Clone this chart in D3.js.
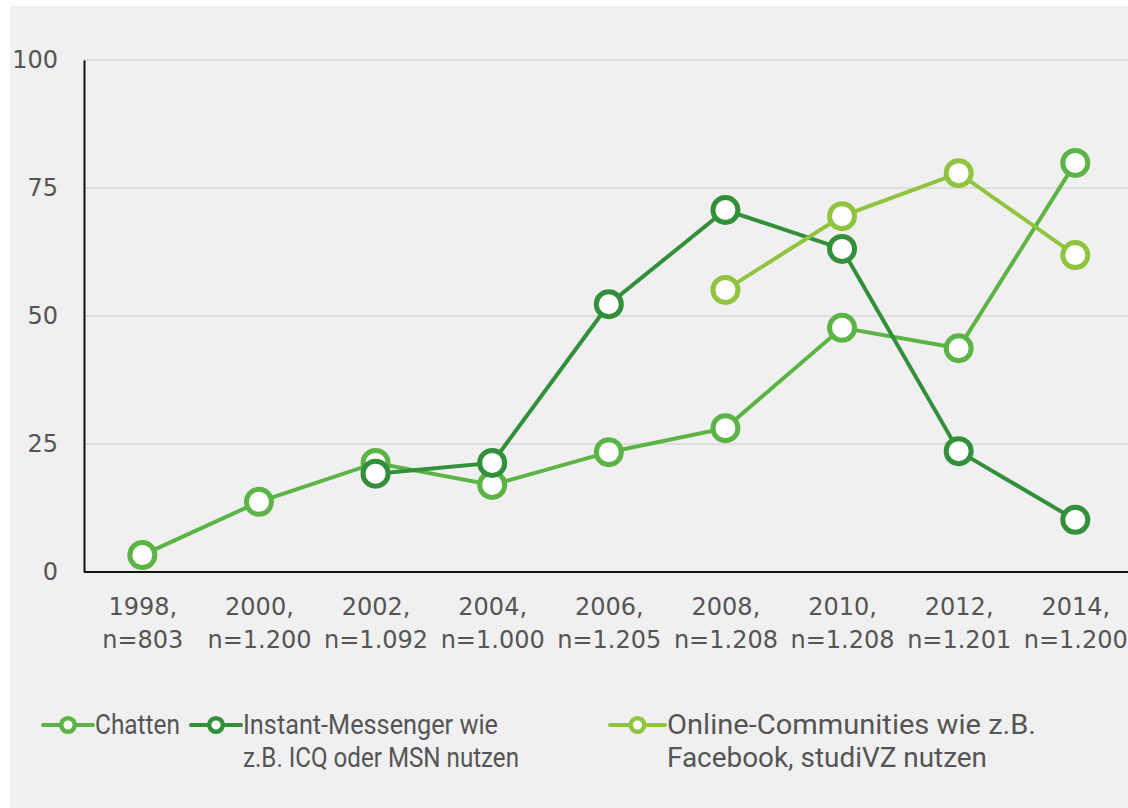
<!DOCTYPE html>
<html><head><meta charset="utf-8">
<script src="https://cdn.jsdelivr.net/npm/d3@7"></script>
<style>body{margin:0;background:#fff}svg{display:block}</style>
</head><body>
<script>
const categories = [["1998,","n=803"],["2000,","n=1.200"],["2002,","n=1.092"],["2004,","n=1.000"],["2006,","n=1.205"],["2008,","n=1.208"],["2010,","n=1.208"],["2012,","n=1.201"],["2014,","n=1.200"]];
const chatten = [3.3, 13.7, 21.3, 17.0, 23.4, 28.1, 47.7, 43.7, 79.9];
const instantMessenger = [null, null, 19.2, 21.3, 52.3, 70.7, 63.1, 23.6, 10.2];
const onlineCommunities = [null, null, null, null, null, 55.1, 69.5, 77.9, 61.9];
const yTicks = [0, 25, 50, 75, 100];
const seriesNames = [["Chatten"], ["Instant-Messenger wie", "z.B. ICQ oder MSN nutzen"], ["Online-Communities wie z.B.", "Facebook, studiVZ nutzen"]];
const colors = ["#5db446", "#33903a", "#8fc43e"];

// layout (not data)
const legendX = [43, 191, 610];
const legendTextX = [52, 52, 57];
const legendTextWidths = [[85], [255, 276], [369, 320]];

const W = 1128, H = 808;
const svg = d3.select("body").append("svg").attr("width", W).attr("height", H);
svg.append("rect").attr("x", 10).attr("y", 6).attr("width", W - 10).attr("height", H - 6).attr("fill", "#f0f0f0");

const x = d3.scalePoint().domain(d3.range(categories.length)).range([84, 1133.6]).padding(0.5);
const y = d3.scaleLinear().domain([0, 100]).range([572, 60]);

// gridlines
svg.append("g").selectAll("line").data(yTicks.filter(t => t > 0)).join("line")
  .attr("x1", 84).attr("x2", W).attr("y1", d => y(d)).attr("y2", d => y(d))
  .attr("stroke", "#d9d9d9").attr("stroke-width", 1.5);

// y axis
const yAxis = svg.append("g").attr("transform", "translate(84,0)")
  .call(d3.axisLeft(y).tickValues(yTicks).tickSize(0).tickPadding(26));
yAxis.select(".domain").attr("stroke", "#111").attr("stroke-width", 2);
yAxis.selectAll("text").attr("font-family", "DejaVu Sans").attr("font-size", 24).attr("fill", "#555");

// x axis
const xAxis = svg.append("g").attr("transform", "translate(0,572)")
  .call(d3.axisBottom(x).tickSize(0).tickFormat(() => ""));
xAxis.select(".domain").attr("stroke", "#111").attr("stroke-width", 2).attr("d", "M84,0H" + W);
xAxis.selectAll(".tick text").each(function(d) {
  const t = d3.select(this).text(null).attr("font-family", "DejaVu Sans").attr("font-size", 24).attr("fill", "#555").attr("y", 0).attr("dy", null);
  t.append("tspan").attr("x", 0).attr("y", 43).text(categories[d][0]);
  t.append("tspan").attr("x", 0).attr("y", 76).text(categories[d][1]);
});

const allSeries = [chatten, instantMessenger, onlineCommunities];
const line = d3.line().defined(d => d.v != null).x(d => x(d.i)).y(d => y(d.v));
allSeries.forEach((s, k) => {
  const pts = s.map((v, i) => ({i, v}));
  const g = svg.append("g");
  g.append("path").datum(pts).attr("d", line).attr("fill", "none").attr("stroke", colors[k]).attr("stroke-width", 4);
  g.selectAll("circle").data(pts.filter(p => p.v != null)).join("circle")
    .attr("cx", p => x(p.i)).attr("cy", p => y(p.v)).attr("r", 12.5)
    .attr("fill", "#fff").attr("stroke", colors[k]).attr("stroke-width", 5);
});

// legend
seriesNames.forEach((names, k) => {
  const g = svg.append("g").attr("transform", `translate(${legendX[k]},725)`);
  g.append("line").attr("x1", 0).attr("x2", legendTextX[k] - 2).attr("stroke", colors[k]).attr("stroke-width", 4).attr("stroke-linecap", "round");
  g.append("circle").attr("cx", (legendTextX[k] - 2) / 2).attr("r", 6.8).attr("fill", "#fff").attr("stroke", colors[k]).attr("stroke-width", 4.5);
  names.forEach((n, j) => g.append("text").attr("font-family", "Roboto, sans-serif").attr("font-size", 28).attr("fill", "#555")
    .attr("x", legendTextX[k]).attr("y", 9 + j * 33)
    .attr("textLength", legendTextWidths[k][j]).attr("lengthAdjust", "spacingAndGlyphs").text(n));
});
</script>
</body></html>
